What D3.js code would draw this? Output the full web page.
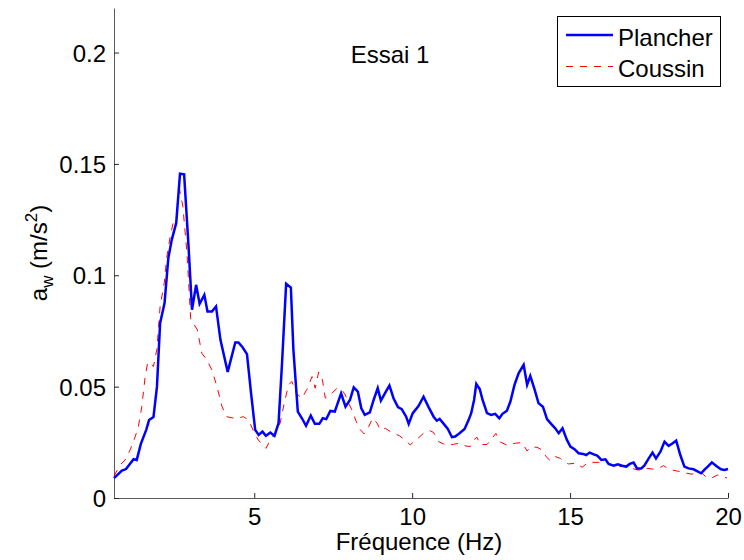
<!DOCTYPE html>
<html>
<head>
<meta charset="utf-8">
<script src="https://cdn.jsdelivr.net/npm/d3@7"></script>
<style>
  html, body { margin: 0; padding: 0; background: #fff; }
  svg { display: block; font-family: "Liberation Sans", Arial, sans-serif; }
</style>
</head>
<body>
<svg id="chart" width="744" height="560"></svg>
<script>
// Spectre d'accélération pondérée — Essai 1
const freqPlancher = [0.56,0.81,0.94,1.18,1.28,1.41,1.58,1.67,1.81,1.92,2.02,2.16,2.28,2.39,2.53,2.65,2.78,2.92,3.03,3.16,3.27,3.42,3.52,3.66,3.79,3.93,4.16,4.40,4.50,4.63,4.77,4.90,5.03,5.14,5.26,5.37,5.51,5.64,5.77,5.88,6.01,6.16,6.24,6.38,6.51,6.64,6.79,6.92,7.06,7.17,7.28,7.41,7.55,7.75,7.89,8.03,8.15,8.28,8.39,8.50,8.66,8.78,8.91,9.01,9.15,9.28,9.41,9.55,9.67,9.81,9.89,10.02,10.20,10.36,10.52,10.68,10.78,10.87,11.00,11.13,11.26,11.36,11.50,11.66,11.79,11.87,11.96,12.03,12.14,12.23,12.37,12.50,12.63,12.76,12.86,13.00,13.11,13.24,13.37,13.53,13.64,13.74,13.88,14.00,14.14,14.27,14.40,14.53,14.64,14.76,14.90,15.01,15.14,15.27,15.41,15.51,15.62,15.75,15.86,15.99,16.12,16.22,16.38,16.51,16.65,16.78,16.89,17.01,17.12,17.25,17.35,17.49,17.61,17.72,17.86,17.99,18.12,18.25,18.36,18.49,18.62,18.75,18.91,19.02,19.15,19.25,19.39,19.49,19.63,19.78,19.89,20.0];
const plancher = [0.0089,0.0123,0.0130,0.0174,0.0171,0.0243,0.0306,0.0350,0.0363,0.0500,0.0785,0.0875,0.1077,0.1160,0.1235,0.1456,0.1453,0.1130,0.0845,0.0957,0.0872,0.0912,0.0837,0.0837,0.0860,0.0710,0.0566,0.0698,0.0698,0.0677,0.0646,0.0470,0.0306,0.0283,0.0298,0.0279,0.0294,0.0279,0.0336,0.0605,0.0962,0.0945,0.0665,0.0388,0.0358,0.0324,0.0370,0.0333,0.0333,0.0358,0.0354,0.0391,0.0388,0.0470,0.0410,0.0440,0.0497,0.0478,0.0403,0.0373,0.0384,0.0440,0.0493,0.0437,0.0473,0.0505,0.0448,0.0408,0.0399,0.0365,0.0333,0.0381,0.0413,0.0455,0.0408,0.0365,0.0347,0.0355,0.0333,0.0310,0.0273,0.0276,0.0291,0.0310,0.0351,0.0381,0.0440,0.0512,0.0489,0.0440,0.0381,0.0373,0.0378,0.0358,0.0378,0.0392,0.0433,0.0508,0.0560,0.0598,0.0508,0.0548,0.0485,0.0426,0.0410,0.0354,0.0333,0.0313,0.0291,0.0313,0.0261,0.0231,0.0219,0.0201,0.0198,0.0193,0.0204,0.0196,0.0190,0.0171,0.0174,0.0153,0.0145,0.0151,0.0145,0.0141,0.0153,0.0159,0.0133,0.0133,0.0145,0.0178,0.0204,0.0178,0.0208,0.0253,0.0234,0.0246,0.0258,0.0193,0.0141,0.0133,0.0129,0.0121,0.0111,0.0126,0.0145,0.0160,0.0144,0.0129,0.0126,0.0130];

const freqCoussin = [0.56,0.75,0.91,1.07,1.23,1.33,1.44,1.55,1.63,1.70,1.81,1.92,2.02,2.15,2.23,2.34,2.44,2.53,2.63,2.74,2.87,2.99,3.10,3.20,3.34,3.50,3.66,3.82,3.98,4.13,4.30,4.45,4.66,4.82,4.98,5.13,5.37,5.51,5.66,5.82,5.96,6.09,6.19,6.33,6.51,6.67,6.83,6.93,7.04,7.16,7.25,7.41,7.62,7.78,7.88,7.99,8.09,8.23,8.36,8.48,8.62,8.75,8.89,8.99,9.15,9.31,9.47,9.60,9.78,9.94,10.10,10.25,10.41,10.57,10.68,10.84,10.99,11.15,11.31,11.50,11.68,11.84,11.94,12.05,12.16,12.37,12.53,12.65,12.79,13.00,13.27,13.48,13.64,13.74,13.95,14.11,14.24,14.37,14.53,14.69,14.76,14.95,15.17,15.38,15.54,15.70,15.91,16.07,16.22,16.38,16.49,16.70,16.91,17.12,17.28,17.44,17.60,17.75,17.96,18.09,18.23,18.39,18.55,18.70,18.86,19.02,19.18,19.34,19.50,19.66,19.82,19.97];
const coussin = [0.0098,0.0148,0.0170,0.0216,0.0275,0.0320,0.0410,0.0550,0.0610,0.0605,0.0590,0.0670,0.0860,0.0965,0.1080,0.1175,0.1240,0.1250,0.1390,0.1310,0.1100,0.0800,0.0778,0.0755,0.0650,0.0620,0.0575,0.0500,0.0410,0.0365,0.0360,0.0358,0.0365,0.0350,0.0300,0.0260,0.0223,0.0260,0.0290,0.0336,0.0433,0.0508,0.0523,0.0470,0.0448,0.0488,0.0545,0.0493,0.0566,0.0530,0.0448,0.0463,0.0493,0.0485,0.0463,0.0426,0.0396,0.0343,0.0306,0.0288,0.0320,0.0358,0.0336,0.0306,0.0313,0.0298,0.0288,0.0279,0.0260,0.0238,0.0260,0.0276,0.0298,0.0302,0.0294,0.0253,0.0243,0.0238,0.0241,0.0246,0.0234,0.0231,0.0260,0.0273,0.0240,0.0240,0.0268,0.0290,0.0251,0.0238,0.0246,0.0249,0.0211,0.0228,0.0228,0.0216,0.0186,0.0168,0.0186,0.0178,0.0168,0.0153,0.0156,0.0138,0.0156,0.0160,0.0160,0.0163,0.0156,0.0144,0.0141,0.0141,0.0136,0.0126,0.0126,0.0133,0.0130,0.0130,0.0145,0.0133,0.0126,0.0121,0.0118,0.0111,0.0107,0.0114,0.0111,0.0089,0.0091,0.0103,0.0099,0.0089];

const xTicks = [5, 10, 15, 20];
const yTicks = [0, 0.05, 0.1, 0.15, 0.2];
const seriesNames = ["Plancher", "Coussin"];

const svg = d3.select("#chart");
const plotLeft = 114, plotRight = 728, plotTop = 8, plotBottom = 498;
const FONT = 24;
const DASH = "7,7";

const x = d3.scaleLinear().domain([0.56, 20]).range([plotLeft, plotRight]);
const y = d3.scaleLinear().domain([0, 0.22]).range([plotBottom, plotTop]);

// Axes (ticks pointing inward, no box)
const xAxis = d3.axisBottom(x).tickValues(xTicks).tickSizeInner(-5).tickSizeOuter(0)
  .tickPadding(10).tickFormat(d3.format("d"));
const yAxis = d3.axisLeft(y).tickValues(yTicks).tickSizeInner(-5).tickSizeOuter(0)
  .tickPadding(8).tickFormat(d => d === 0 ? "0" : String(+d.toFixed(2)));

const gx = svg.append("g").attr("transform", `translate(0,${plotBottom})`).call(xAxis);
const gy = svg.append("g").attr("transform", `translate(${plotLeft},0)`).call(yAxis);

[gx, gy].forEach(g => {
  g.select(".domain").attr("stroke", "#5a5a5a").attr("stroke-width", 1);
  g.selectAll(".tick line").attr("stroke", "#262626").attr("stroke-width", 1);
  g.selectAll(".tick text").attr("fill", "#000").style("font-size", FONT + "px")
    .style("font-family", "'Liberation Sans', Arial, sans-serif");
});
gy.selectAll(".tick text").attr("dy", "0.36em");
gx.selectAll(".tick text").attr("dy", "0.72em");

// Curves
const line = d3.line().x(d => x(d[0])).y(d => y(d[1]));

svg.append("path")
  .datum(d3.zip(freqCoussin, coussin))
  .attr("d", line).attr("fill", "none")
  .attr("stroke", "#ff0000").attr("stroke-width", 1)
  .attr("stroke-dasharray", DASH);

svg.append("path")
  .datum(d3.zip(freqPlancher, plancher))
  .attr("d", line).attr("fill", "none")
  .attr("stroke", "#0000ff").attr("stroke-width", 2.5)
  .attr("stroke-linejoin", "miter");

// Title inside the axes
svg.append("text").attr("x", x(9.3)).attr("y", y(0.1953))
  .attr("text-anchor", "middle").style("font-size", FONT + "px").text("Essai 1");

// Axis labels
svg.append("text").attr("x", 419).attr("y", 550)
  .attr("text-anchor", "middle").style("font-size", FONT + "px").text("Fréquence (Hz)");

const yl = svg.append("text")
  .attr("transform", `translate(47,${(plotTop + plotBottom) / 2}) rotate(-90)`)
  .attr("text-anchor", "middle").style("font-size", FONT + "px");
yl.append("tspan").text("a");
yl.append("tspan").attr("dy", 6).style("font-size", "17px").text("w");
yl.append("tspan").attr("dy", -6).text(" (m/s");
yl.append("tspan").attr("dy", -10).style("font-size", "17px").text("2");
yl.append("tspan").attr("dy", 10).text(")");

// Legend
const lg = svg.append("g");
lg.append("rect").attr("x", 557.5).attr("y", 16.5).attr("width", 163).attr("height", 70)
  .attr("fill", "#fff").attr("stroke", "#000").attr("stroke-width", 1);
const legendStyles = [
  { color: "#0000ff", width: 2.5, dash: null },
  { color: "#ff0000", width: 1, dash: DASH }
];
seriesNames.forEach((name, i) => {
  const cy = 35 + i * 31.5;
  lg.append("line").attr("x1", 566).attr("x2", 613).attr("y1", cy).attr("y2", cy)
    .attr("stroke", legendStyles[i].color).attr("stroke-width", legendStyles[i].width)
    .attr("stroke-dasharray", legendStyles[i].dash);
  lg.append("text").attr("x", 618).attr("y", cy + 10.5)
    .style("font-size", FONT + "px").text(name);
});
</script>
</body>
</html>
